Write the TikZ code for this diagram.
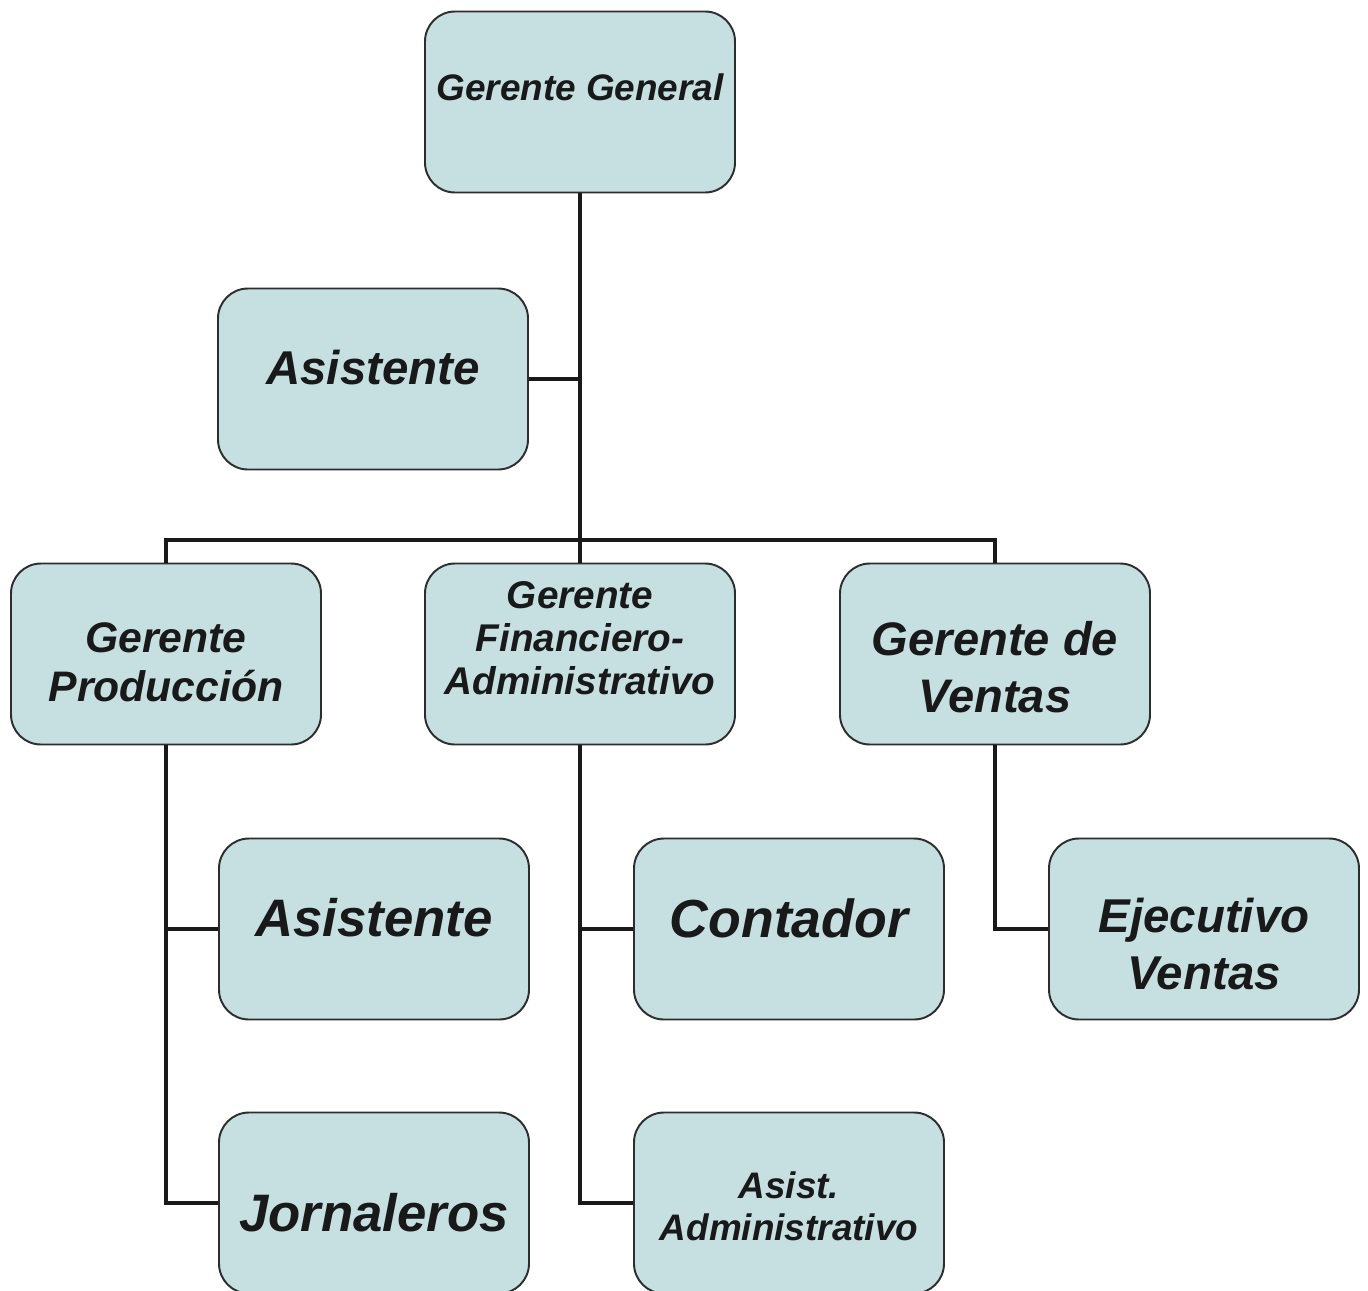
\documentclass[tikz,border=0pt]{standalone}
\usepackage{fontspec}
\setmainfont{Liberation Sans}
\usetikzlibrary{positioning}
\definecolor{cajafondo}{RGB}{198,224,226}
\definecolor{cajaborde}{RGB}{45,45,45}
\tikzset{
  puesto/.style={rectangle,rounded corners=0.6cm,draw=cajaborde,line width=1.1pt,
    fill=cajafondo,minimum width=6.2cm,minimum height=3.62cm,inner sep=0pt},
  rotulo/.style={inner sep=0pt,align=center,text=black!90},
  enlace/.style={draw=black!90,line width=2.3pt}
}
\newcommand{\tam}[2]{\bfseries\itshape\fontsize{#1}{#2}\selectfont}
\begin{document}
\begin{tikzpicture}
  % draw page
  \useasboundingbox[fill=white] (0,0) rectangle (27.36,-25.8);
  % draw top boxes
  \node at(11.6,-2.04)[puesto](gg){};
  \node at(7.46,-7.58)[puesto](asis){};
  % draw managers
  \node at(3.32,-13.08)[puesto](gp){};
  \node at(11.6,-13.08)[puesto](gfa){};
  \node at(19.90,-13.08)[puesto](gv){};
  % draw staff
  \node at(7.48,-18.58)[puesto](asisp){};
  \node at(15.78,-18.58)[puesto](cont){};
  \node at(24.08,-18.58)[puesto](ejec){};
  \node at(7.48,-24.06)[puesto](jorn){};
  \node at(15.78,-24.06)[puesto](asad){};
  % draw texts of the boxes
  \node at([yshift=0.30cm]gg)[rotulo,font=\tam{21}{24}](gg-t){Gerente General};
  \node at([yshift=0.22cm]asis)[rotulo,font=\tam{27}{31}](asis-t){Asistente};
  \node at([yshift=-0.16cm]gp)[rotulo,font=\tam{24.3}{28}](gp-t){Gerente\\Producción};
  \node at([yshift=0.32cm]gfa)[rotulo,font=\tam{22}{24.3}](gfa-t){Gerente\\Financiero-\\Administrativo};
  \node at([yshift=-0.26cm]gv)[rotulo,font=\tam{26.8}{32.5}](gv-t){Gerente de\\Ventas};
  \node at([yshift=0.22cm]asisp)[rotulo,font=\tam{30}{34}](asisp-t){Asistente};
  \node at([yshift=0.22cm]cont)[rotulo,font=\tam{30.5}{34}](cont-t){Contador};
  \node at([yshift=-0.30cm]ejec)[rotulo,font=\tam{27}{32}](ejec-t){Ejecutivo\\Ventas};
  \node at([yshift=-0.20cm]jorn)[rotulo,font=\tam{30}{34}](jorn-t){Jornaleros};
  \node at([yshift=-0.06cm]asad)[rotulo,font=\tam{21}{24}](asad-t){Asist.\\Administrativo};
  % draw branch point of the managers
  \coordinate (bar) at (11.6,-10.8);
  % draw lines from the top
  \draw [enlace](gg.south) -- (bar);
  \draw [enlace](asis.east) -- (asis.east -| gg.south);
  \draw [enlace](gp.north) |- (bar) -| (gv.north);
  \draw [enlace](bar) -- (gfa.north);
  % draw lines to the staff
  \draw [enlace](gp.south) |- (jorn.west);
  \draw [enlace](asisp.west) -- (asisp.west -| gp.south);
  \draw [enlace](gfa.south) |- (asad.west);
  \draw [enlace](cont.west) -- (cont.west -| gfa.south);
  \draw [enlace](gv.south) |- (ejec.west);
\end{tikzpicture}
\end{document}
